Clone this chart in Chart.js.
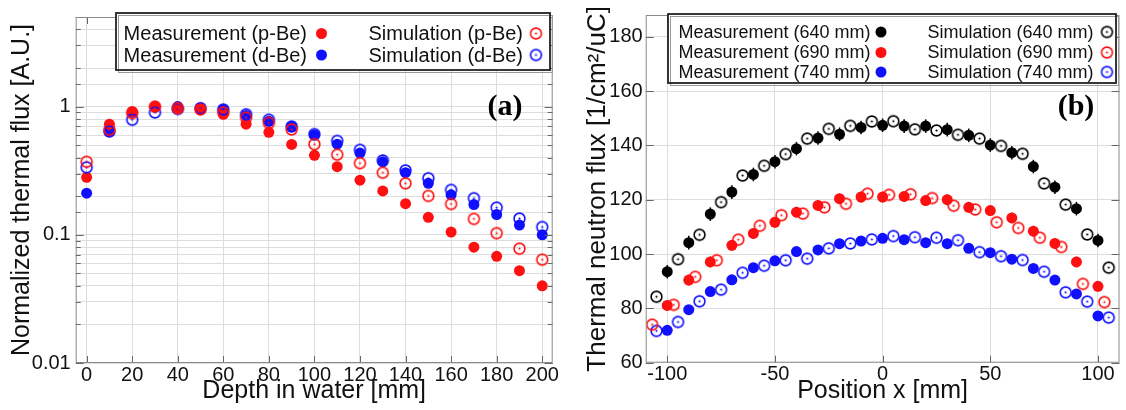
<!DOCTYPE html>
<html>
<head>
<meta charset="utf-8">
<script src="https://cdn.jsdelivr.net/npm/chart.js"></script>
<style>
html, body { margin: 0; padding: 0; background: #fff; }
#wrap { position: relative; width: 1126px; height: 410px; overflow: hidden; }
#left { position: absolute; left: 0; top: 0; }
#right { position: absolute; left: 563px; top: 0; }
</style>
</head>
<body>
<div id="wrap">
  <canvas id="left" width="560" height="410"></canvas>
  <canvas id="right" width="563" height="410"></canvas>
</div>
<script>
// ---- panel (a) data ----
const depth = [0,10,20,30,40,50,60,70,80,90,100,110,120,130,140,150,160,170,180,190,200];
const measPBe = [0.281,0.73,0.916,1.0,0.98,0.96,0.87,0.73,0.63,0.507,0.417,0.34,0.267,0.22,0.175,0.137,0.105,0.080,0.068,0.0525,0.040];
const simPBe  = [0.371,0.66,0.89,1.0,0.97,0.95,0.90,0.82,0.746,0.663,0.509,0.422,0.362,0.305,0.252,0.201,0.174,0.133,0.103,0.078,0.064];
const measDBe = [0.211,0.637,0.9,0.99,1.0,0.98,0.94,0.853,0.768,0.695,0.60,0.509,0.434,0.371,0.305,0.252,0.205,0.172,0.144,0.119,0.10];
const simDBe  = [0.336,0.64,0.79,0.90,0.96,0.97,0.95,0.87,0.79,0.70,0.61,0.54,0.46,0.38,0.318,0.276,0.224,0.193,0.163,0.134,0.115];
const depthTicks = [0,20,40,60,80,100,120,140,160,180,200];
const logLabels = [0.01, 0.1, 1];

// ---- panel (b) data ----
const posMeas = [-100,-90,-80,-70,-60,-50,-40,-30,-20,-10,0,10,20,30,40,50,60,70,80,90,100];
const posSim  = [-105,-95,-85,-75,-65,-55,-45,-35,-25,-15,-5,5,15,25,35,45,55,65,75,85,95,105];
const posSim690 = [-107,-97,-87,-77,-67,-57,-47,-37,-27,-17,-7,3,13,23,33,43,53,63,73,83,93,103];
const meas640 = [93.5,104.2,114.7,122.8,129.3,134.0,138.8,142.7,144.1,146.6,147.4,147.1,147.1,145.8,143.7,140.1,137.3,132.2,124.6,116.7,105.0];
const sim640  = [84.3,98.1,107.1,119.1,128.9,132.5,136.8,142.5,146.1,147.2,148.8,148.9,145.9,145.5,143.9,142.5,139.8,136.9,126.0,118.2,107.2,95.0];
const meas690 = [81.1,90.4,97.1,103.2,107.6,111.7,115.4,117.9,120.4,121.0,121.0,121.2,119.7,120.0,117.2,116.0,113.3,108.4,103.9,97.1,88.1];
const sim690  = [74.0,81.3,91.6,97.7,105.3,110.4,114.3,114.9,117.2,118.5,122.2,121.8,122.0,120.6,117.8,116.4,111.7,109.6,106.0,102.6,89.0,82.3];
const meas740 = [71.9,79.5,86.2,90.5,95.0,97.5,100.9,101.5,103.8,104.8,105.8,105.3,104.2,103.8,102.1,100.5,98.1,94.7,90.4,85.3,77.2];
const sim740  = [71.7,75.0,82.6,86.9,93.1,95.7,97.7,98.3,102.1,103.9,105.4,106.6,106.2,106.0,105.1,100.7,99.2,97.8,93.5,85.9,82.5,76.6];
const posTicks = [-100,-50,0,50,100];
const fluxTicks = [60,80,100,120,140,160,180];

Chart.defaults.font.family = '"Liberation Sans", Arial, sans-serif';
Chart.defaults.color = '#111';

const RED = '#ff1010', BLUE = '#1010ff', BLACK = '#000';

// open circle with a dot in the middle, used for simulation points
function openMarker(color) {
  const c = document.createElement('canvas');
  c.width = 15; c.height = 15;
  const g = c.getContext('2d');
  g.strokeStyle = color;
  g.lineWidth = 1.6;
  g.beginPath(); g.arc(7.5, 7.5, 5.4, 0, Math.PI * 2); g.stroke();
  g.fillStyle = color;
  g.beginPath(); g.arc(7.5, 7.5, 1.1, 0, Math.PI * 2); g.fill();
  return c;
}

function pts(xs, ys) { return xs.map((x, i) => ({x: x, y: ys[i]})); }

function measSet(label, xs, ys, color, cell, err) {
  return { label: label, data: pts(xs, ys), showLine: false, order: 1,
    pointRadius: 5.5, pointHoverRadius: 5.5, pointBackgroundColor: color,
    pointBorderWidth: 0, borderColor: color, backgroundColor: color,
    legendCell: cell, errBar: err || 0 };
}
function simSet(label, xs, ys, color, cell) {
  const m = openMarker(color);
  return { label: label, data: pts(xs, ys), showLine: false, order: 0,
    pointStyle: m, pointRadius: 5.5, pointHoverRadius: 5.5,
    borderColor: color, backgroundColor: color, legendCell: cell, marker: m };
}

function fixedTicks(list) {
  return s => { s.ticks = list.map(v => ({ value: v })); };
}

// frame, inner ticks, legend box, panel tag, error bars
const decor = {
  id: 'decor',
  beforeDatasetsDraw(chart) {
    const ctx = chart.ctx;
    const ys = chart.scales.y;
    chart.data.datasets.forEach((ds, i) => {
      if (!ds.errBar) return;
      ctx.save();
      ctx.strokeStyle = ds.borderColor;
      ctx.lineWidth = 1.5;
      chart.getDatasetMeta(i).data.forEach((p, j) => {
        const v = ds.data[j].y;
        ctx.beginPath();
        ctx.moveTo(p.x, ys.getPixelForValue(v - ds.errBar));
        ctx.lineTo(p.x, ys.getPixelForValue(v + ds.errBar));
        ctx.stroke();
      });
      ctx.restore();
    });
  },
  afterDraw(chart, args, opts) {
    const ctx = chart.ctx;
    const a = chart.chartArea;
    ctx.save();
    // inner tick marks
    ctx.strokeStyle = '#666';
    ctx.lineWidth = 1;
    chart.scales.x.ticks.forEach(t => {
      const px = Math.round(chart.scales.x.getPixelForValue(t.value)) + 0.5;
      ctx.beginPath();
      ctx.moveTo(px, a.bottom); ctx.lineTo(px, a.bottom - 7);
      ctx.moveTo(px, a.top); ctx.lineTo(px, a.top + 7);
      ctx.stroke();
    });
    chart.scales.y.ticks.forEach(t => {
      const py = Math.round(chart.scales.y.getPixelForValue(t.value)) + 0.5;
      const len = t.label ? 8 : 5;
      ctx.beginPath();
      ctx.moveTo(a.left, py); ctx.lineTo(a.left + len, py);
      ctx.moveTo(a.right, py); ctx.lineTo(a.right - len, py);
      ctx.stroke();
    });
    // frame
    ctx.strokeStyle = '#8a8a8a';
    ctx.strokeRect(a.left + 0.5, a.top + 0.5, a.right - a.left - 1, a.bottom - a.top - 1);

    // legend box
    const b = opts.box;
    ctx.fillStyle = '#fff';
    ctx.fillRect(b[0], b[1], b[2], b[3]);
    ctx.strokeStyle = '#999';
    ctx.lineWidth = 1;
    ctx.strokeRect(b[0] + 2.5, b[1] + 2.5, b[2], b[3]);
    ctx.strokeStyle = '#222';
    ctx.lineWidth = 1.8;
    ctx.strokeRect(b[0], b[1], b[2], b[3]);
    ctx.font = opts.fontSize + 'px "Liberation Sans", Arial, sans-serif';
    ctx.textAlign = 'right';
    ctx.textBaseline = 'middle';
    chart.data.datasets.forEach(ds => {
      const col = opts.cols[ds.legendCell[0]];
      const y = opts.rows[ds.legendCell[1]];
      ctx.fillStyle = '#111';
      ctx.fillText(ds.label, col[0], y + 1);
      if (ds.marker) {
        ctx.drawImage(ds.marker, col[1] - 7.5, y - 7.5);
      } else {
        ctx.fillStyle = ds.backgroundColor;
        ctx.beginPath(); ctx.arc(col[1], y, 5.5, 0, Math.PI * 2); ctx.fill();
      }
    });

    // panel tag
    ctx.fillStyle = '#000';
    ctx.font = 'bold 30px "Liberation Serif", "Times New Roman", serif';
    ctx.textAlign = 'center';
    ctx.fillText(opts.tag[0], opts.tag[1], opts.tag[2]);
    ctx.restore();
  }
};

const gridColor = '#dddddd';

// ---- panel (a) ----
new Chart(document.getElementById('left'), {
  type: 'scatter',
  data: {
    datasets: [
      measSet('Measurement (p-Be)', depth, measPBe, RED, [0, 0]),
      simSet('Simulation (p-Be)', depth, simPBe, RED, [1, 0]),
      measSet('Measurement (d-Be)', depth, measDBe, BLUE, [0, 1]),
      simSet('Simulation (d-Be)', depth, simDBe, BLUE, [1, 1])
    ]
  },
  options: {
    responsive: false,
    animation: false,
    layout: { padding: { top: 11, right: 7.3, bottom: 0, left: 0 } },
    plugins: {
      legend: { display: false },
      tooltip: { enabled: false },
      decor: {
        box: [116, 13, 434, 57],
        fontSize: 20,
        cols: [[307, 321.5], [523, 536]],
        rows: [33.5, 55],
        tag: ['(a)', 505, 107]
      }
    },
    scales: {
      x: {
        type: 'linear', min: -4.8, max: 204.6,
        ticks: { font: { size: 20 }, padding: 0, maxRotation: 0, autoSkip: false },
        afterBuildTicks: fixedTicks(depthTicks),
        afterFit: s => { s.height = 47; },
        grid: { color: gridColor, drawTicks: false },
        border: { display: false },
        title: { display: true, text: 'Depth in water [mm]', font: { size: 25 }, padding: { top: 0, bottom: 4 } }
      },
      y: {
        type: 'logarithmic', min: 0.01, max: 5,
        ticks: {
          autoSkip: false, font: { size: 20 }, padding: 5,
          callback: v => logLabels.some(l => Math.abs(l - v) < l * 1e-6) ? String(v) : ''
        },
        afterFit: s => { s.width = 75.7; },
        grid: { color: gridColor, drawTicks: false },
        border: { display: false },
        title: { display: true, text: 'Normalized thermal flux [A.U.]', font: { size: 25 }, padding: { top: 7, bottom: 0 } }
      }
    }
  },
  plugins: [decor]
});

// ---- panel (b) ----
new Chart(document.getElementById('right'), {
  type: 'scatter',
  data: {
    datasets: [
      measSet('Measurement (640 mm)', posMeas, meas640, BLACK, [0, 0], 2.5),
      simSet('Simulation (640 mm)', posSim, sim640, BLACK, [1, 0]),
      measSet('Measurement (690 mm)', posMeas, meas690, RED, [0, 1], 2),
      simSet('Simulation (690 mm)', posSim690, sim690, RED, [1, 1]),
      measSet('Measurement (740 mm)', posMeas, meas740, BLUE, [0, 2], 1),
      simSet('Simulation (740 mm)', posSim, sim740, BLUE, [1, 2])
    ]
  },
  options: {
    responsive: false,
    animation: false,
    layout: { padding: { top: 12, right: 6, bottom: 0, left: 0 } },
    plugins: {
      legend: { display: false },
      tooltip: { enabled: false },
      decor: {
        box: [105, 14, 448, 69],
        fontSize: 18,
        cols: [[307.5, 318], [530.5, 544]],
        rows: [32, 52.5, 72],
        tag: ['(b)', 513, 107]
      }
    },
    scales: {
      x: {
        type: 'linear', min: -110, max: 110,
        ticks: { font: { size: 20 }, padding: 0, maxRotation: 0, autoSkip: false },
        afterBuildTicks: fixedTicks(posTicks),
        afterFit: s => { s.height = 47.3; },
        grid: { color: gridColor, drawTicks: false },
        border: { display: false },
        title: { display: true, text: 'Position x [mm]', font: { size: 25 }, padding: { top: 0, bottom: 4 } }
      },
      y: {
        type: 'linear', min: 60, max: 188,
        ticks: { font: { size: 20 }, padding: 3, autoSkip: false },
        afterBuildTicks: fixedTicks(fluxTicks),
        afterFit: s => { s.width = 82.7; },
        grid: { color: gridColor, drawTicks: false },
        border: { display: false },
        title: { display: true, text: 'Thermal neutron flux [1/cm²/uC]', font: { size: 26 }, padding: { top: 19, bottom: 0 } }
      }
    }
  },
  plugins: [decor]
});
</script>
</body>
</html>
